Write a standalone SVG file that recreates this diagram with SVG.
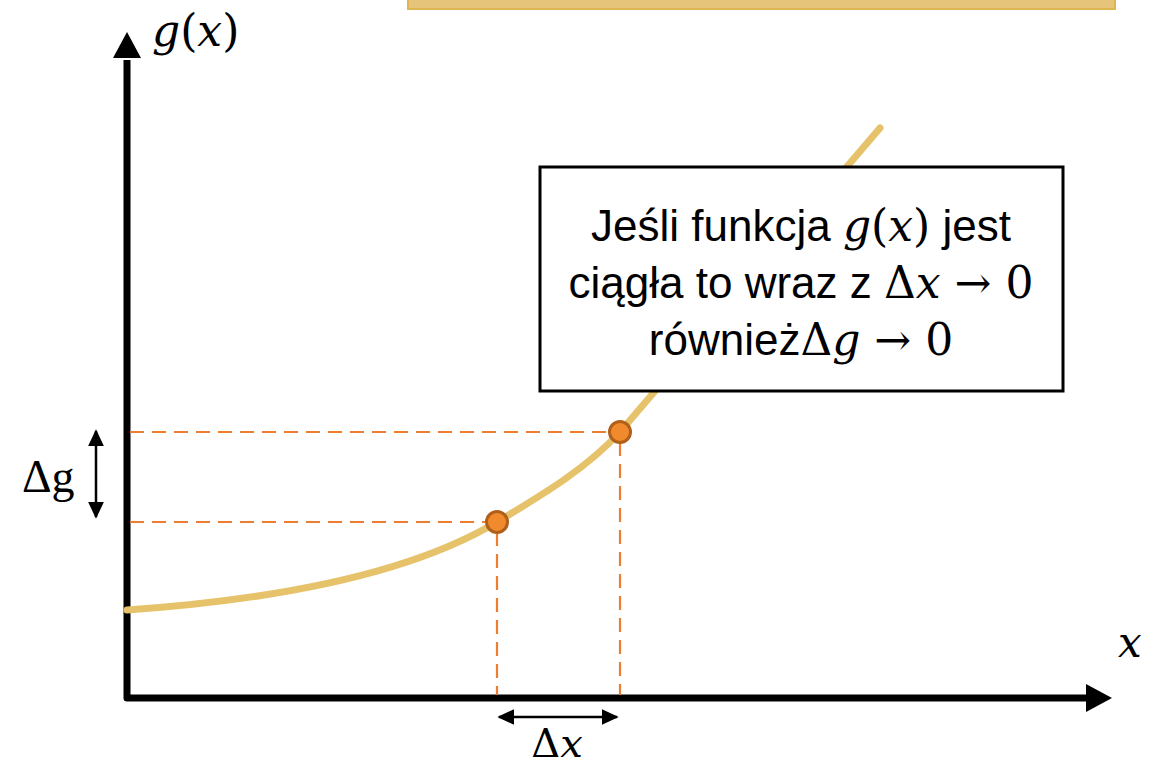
<svg xmlns="http://www.w3.org/2000/svg" width="1156" height="768" viewBox="0 0 1156 768">
<defs>
<style>
.math{font-family:"DejaVu Serif","Liberation Serif",serif;}
.it{font-style:italic;}
.rm{font-family:"Liberation Serif","DejaVu Serif",serif;}
.sans{font-family:"Liberation Sans","Arial",sans-serif;}
.dash{stroke:#ED7D31;stroke-width:2.2;stroke-dasharray:14 8;fill:none;}
.pt{fill:#F08A2C;stroke:#B0601A;stroke-width:3;}
.axis{stroke:#000;stroke-width:7;fill:none;stroke-linejoin:round;}
.dim{stroke:#000;stroke-width:2.5;fill:none;}
</style>
<marker id="ah" viewBox="0 0 10 10" refX="9" refY="5" markerWidth="17" markerHeight="16" markerUnits="userSpaceOnUse" orient="auto-start-reverse" preserveAspectRatio="none">
<path d="M0,0 L10,5 L0,10 z" fill="#000"/>
</marker>
</defs>
<rect width="1156" height="768" fill="#fff"/>
<g id="top-bar">
<rect x="408" y="-10" width="707" height="19" fill="#E6C47A" stroke="#DDB652" stroke-width="2"/>
</g>
<g id="axes">
<path class="axis" d="M127,60 L127,698 L1090,698"/>
<path d="M113,58 L127,32 L141,58 z" fill="#000"/>
<path d="M1086,684 L1112,698 L1086,712 z" fill="#000"/>
<text class="math" x="152" y="46" font-size="44"><tspan class="it">g</tspan>(<tspan class="it">x</tspan>)</text>
<text class="math it" x="1118" y="657" font-size="42">x</text>
</g>
<g id="curve">
<path d="M127,610 C300,598 420,568 497,522 C540,496 585,470 620,432 L880,128" fill="none" stroke="#E6C36A" stroke-width="7" stroke-linecap="round"/>
</g>
<g id="connectors">
<line class="dash" x1="130" y1="432" x2="610" y2="432"/>
<line class="dash" x1="130" y1="522" x2="488" y2="522"/>
<line class="dash" x1="620" y1="442" x2="620" y2="695"/>
<line class="dash" x1="497" y1="532" x2="497" y2="695"/>
<line class="dim" x1="96" y1="431" x2="96" y2="517" marker-start="url(#ah)" marker-end="url(#ah)"/>
<line class="dim" x1="499" y1="717" x2="617" y2="717" marker-start="url(#ah)" marker-end="url(#ah)"/>
</g>
<g id="points">
<circle class="pt" cx="497" cy="522" r="10.5"/>
<circle class="pt" cx="620" cy="432" r="10.5"/>
</g>
<g id="label-dg">
<text class="rm" x="22" y="492" font-size="46">Δg</text>
</g>
<g id="label-dx">
<text class="math" x="557" y="757" font-size="40" text-anchor="middle">Δ<tspan class="it">x</tspan></text>
</g>
<g id="note-box">
<rect x="540" y="167" width="523" height="224" fill="#fff" stroke="#000" stroke-width="3"/>
<text x="801" y="241" font-size="44" text-anchor="middle" class="sans">Jeśli funkcja <tspan class="math it">g</tspan><tspan class="math">(</tspan><tspan class="math it">x</tspan><tspan class="math">)</tspan> jest</text>
<text x="801" y="298" font-size="44" text-anchor="middle" class="sans">ciągła to wraz z <tspan class="math">Δ</tspan><tspan class="math it">x</tspan><tspan class="math"> → 0</tspan></text>
<text x="801" y="355" font-size="44" text-anchor="middle" class="sans">również<tspan class="math">Δ</tspan><tspan class="math it">g</tspan><tspan class="math"> → 0</tspan></text>
</g>
</svg>
